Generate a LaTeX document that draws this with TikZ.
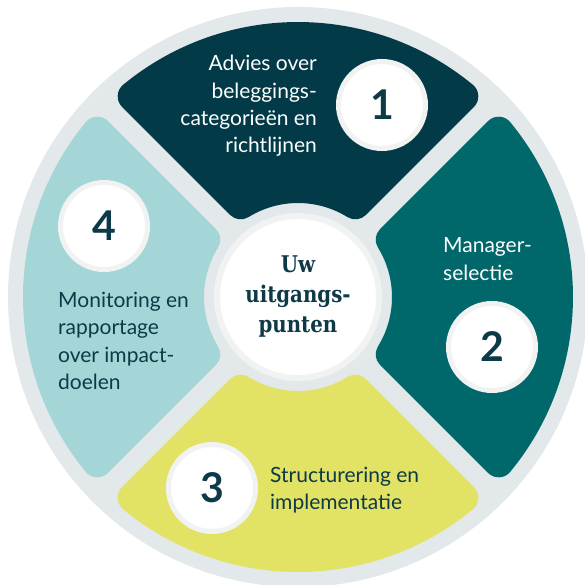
\documentclass[tikz,border=0pt]{standalone}
\usepackage{fontspec}
\setmainfont{Lato}
\newfontfamily\kopfont[FakeStretch=0.86]{DejaVu Serif}
\usepackage{xcolor}
\definecolor{ringgrijs}{HTML}{E3E8EA}
\definecolor{donker}{HTML}{023A47}
\definecolor{petrol}{HTML}{00676A}
\definecolor{geel}{HTML}{E2E265}
\definecolor{lichtblauw}{HTML}{A4D6D7}
\definecolor{schaduw}{HTML}{F1F2F2}
\definecolor{tekst}{HTML}{0E3A47}

\begin{document}
\begin{tikzpicture}[x=1pt,y=1pt]
	\tikzstyle{vlak}=[line width=30pt,line join=round]
	\tikzstyle{tekstblok}=[inner sep=0pt,font=\fontsize{21}{27.3}\selectfont]
	\tikzstyle{nummer}=[circle,fill=white,draw=schaduw,line width=5pt,minimum size=87pt,inner sep=0pt,text=tekst,font=\fontsize{41}{41}\selectfont\bfseries]
	\useasboundingbox (-298,-287) rectangle (287,297);
	\fill[ringgrijs] (0,0) circle (290);
\par
\foreach \hoek/\kleur in {90/donker,0/petrol,-90/geel,180/lichtblauw}{
	\begin{scope}[rotate=\hoek-90]
	\draw[vlak,fill=\kleur,draw=\kleur] ({45+asin(25/109)}:109) -- ({45+asin(25/260)}:260)
		arc[start angle={45+asin(25/260)},end angle={135-asin(25/260)},radius=260]
		-- ({135-asin(25/109)}:109)
		arc[start angle={135-asin(25/109)},end angle={45+asin(25/109)},radius=109] -- cycle;
	\end{scope}
}
\par
\node[nummer,line width=6pt,minimum size=162pt,align=center,font={\kopfont\bfseries\fontsize{23}{30}\selectfont}] (kern) at (0,0) {Uw\\uitgangs-\\punten};
\par
\node[nummer] (n1) at (84,192) {1};
	\node[nummer] (n2) at (194,-50) {2};
	\node[nummer] (n3) at (-86,-191) {3};
	\node[nummer] (n4) at (-194,71) {4};
\par
\node[tekstblok,anchor=east,align=right,text=white] (t1) at (19,191) {Advies over\\beleggings-\\categorieën en\\richtlijnen};
	\node[tekstblok,anchor=west,align=left,text=white] (t2) at (145,38) {Manager-\\selectie};
	\node[tekstblok,anchor=west,align=left,text=tekst] (t3) at (-28,-193) {Structurering en\\implementatie};
	\node[tekstblok,anchor=west,align=left,text=tekst] (t4) at (-240,-44) {Monitoring en\\rapportage\\over impact-\\doelen};
\end{tikzpicture}
\end{document}
